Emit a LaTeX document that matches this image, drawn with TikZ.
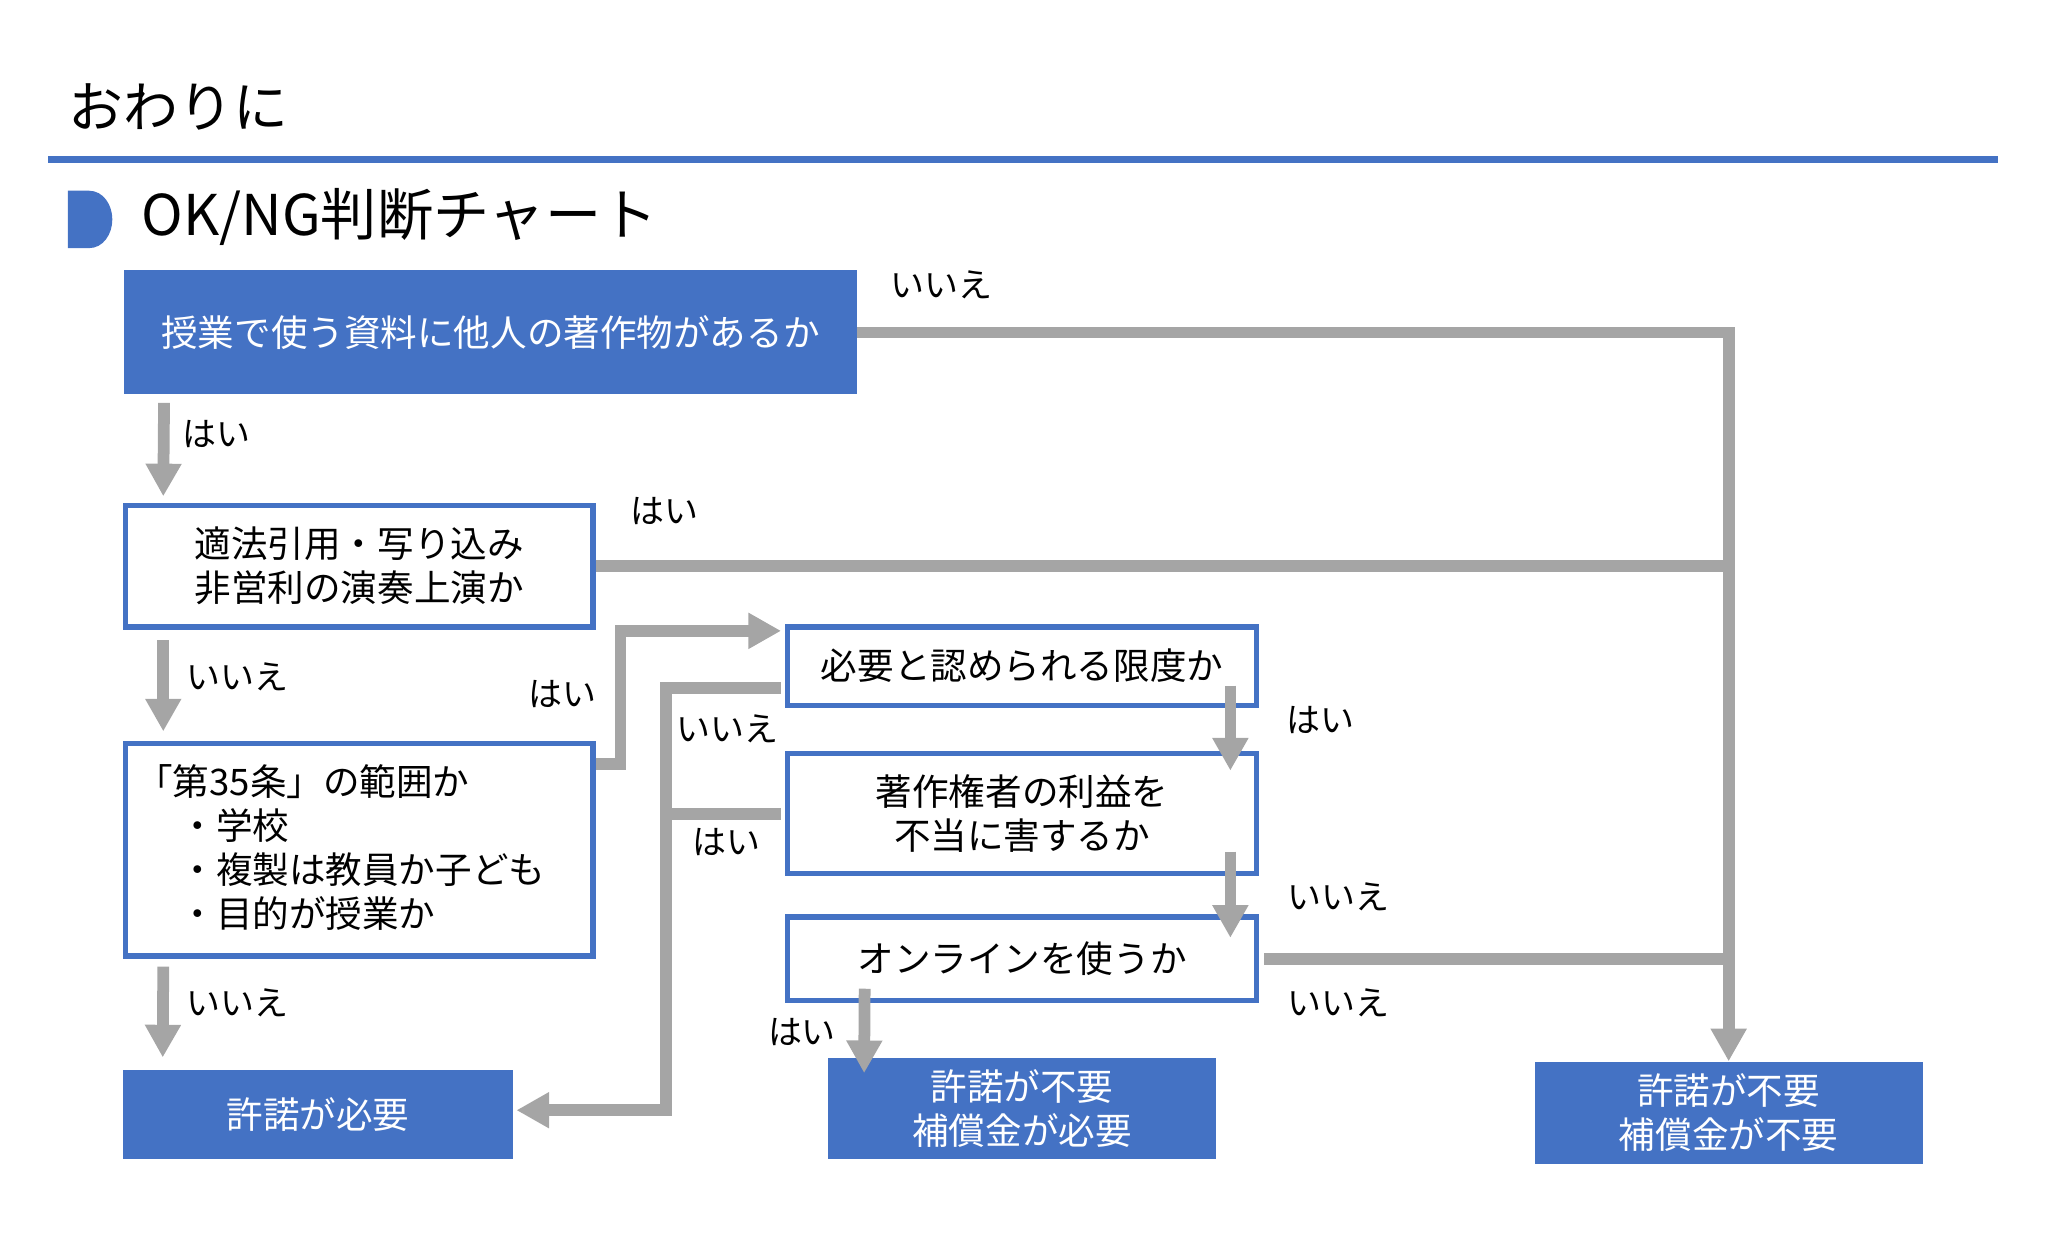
\documentclass[tikz,border=0pt]{standalone}
\usepackage{fontspec}
\newfontfamily\jp{Noto Sans CJK JP}
\usetikzlibrary{arrows.meta}
\definecolor{oblue}{HTML}{4472C4}
\definecolor{ogray}{HTML}{A5A5A5}
\begin{document}
\begin{tikzpicture}[x=0.5pt,y=-0.5pt,
  txt/.style={font=\jp\fontsize{14}{16.8}\selectfont},
  lbl/.style={font=\jp\fontsize{13}{15}\selectfont, inner sep=0pt, text=black},
  qbox/.style={draw=oblue, line width=2pt, fill=white, inner sep=0pt, align=center, txt, text=black},
  abox/.style={fill=oblue, inner sep=0pt, align=center, txt, text=white},
  conn/.style={draw=ogray, line width=4.5pt},
  arr/.style={conn, -{Triangle[width=13pt,length=12.5pt]}},
  ttl/.style={font=\jp\fontsize{21}{25}\selectfont, inner sep=0pt, anchor=west}
]
\useasboundingbox (0,0) rectangle (1568,952);

% header
\node[ttl] (title) at (52,82) {おわりに};
\draw[oblue, line width=2.6pt] (37,122) -- (1530,122);
\fill[oblue] (52,146) -- (68,146) to[out=0,in=90] (86,168) to[out=-90,in=0] (68,190) -- (52,190) -- cycle;
\node[ttl, font=\jp\fontsize{21.5}{25}\selectfont] (sub) at (108,166) {OK/NG判断チャート};

% boxes
\node[abox, minimum width=280.5pt, minimum height=47.5pt] (b1) at (375.5,254.5) {授業で使う資料に他人の著作物があるか};
\node[qbox, minimum width=179pt, minimum height=46.5pt] (b2) at (275,433.5) {適法引用・写り込み\\非営利の演奏上演か};
\node[qbox, minimum width=179pt, minimum height=81.5pt] (b3) at (275,650.5) {};
\node[txt, anchor=west, align=left, inner sep=0pt] (b3t) at (104,649) {「第35条」の範囲か\\\hspace*{16.5pt}・学校\\\hspace*{16.5pt}・複製は教員か子ども\\\hspace*{16.5pt}・目的が授業か};
\node[qbox, minimum width=179.5pt, minimum height=30pt] (b4) at (782.5,510) {必要と認められる限度か};
\node[qbox, minimum width=179.5pt, minimum height=46pt] (b5) at (782.5,623) {著作権者の利益を\\不当に害するか};
\node[qbox, minimum width=179.5pt, minimum height=32pt] (b6) at (782.5,734) {オンラインを使うか};
\node[abox, minimum width=149.5pt, minimum height=34pt] (f1) at (243.5,853) {許諾が必要};
\node[abox, minimum width=148.5pt, minimum height=38.5pt] (f2) at (782.5,848.5) {許諾が不要\\補償金が必要};
\node[abox, minimum width=148.5pt, minimum height=39pt] (f3) at (1323.5,852) {許諾が不要\\補償金が不要};

% connectors
\draw[arr] (b1.east) -| (f3.north);
\draw[conn] (b2.east) -- (b2.east -| f3.north);
\draw[conn] ([shift={(4,0)}]b6.east) -- (b6.east -| f3.north);
\draw[arr] ([shift={(31,6)}]b1.south west) -- ([shift={(31,-5)}]b2.north west);
\draw[arr] ([shift={(31,8)}]b2.south west) -- ([shift={(31,-7)}]b3.north west);
\draw[arr] ([shift={(31,6)}]b3.south west) -- ([shift={(31,-9)}]f1.north west);
\draw[arr] ([shift={(0,18)}]b3.north east) -- ++(19,0) |- ([shift={(-3,5)}]b4.north west);
\draw[arr] ([shift={(-3,-15)}]b4.south west) -- ++(-88,0) |- ([shift={(2,-3)}]f1.east);
\draw[conn] ([shift={(-3,0)}]b5.west) -- ++(-88,0);
\draw[arr] ([shift={(-22,-17)}]b4.south east) -- ([shift={(-22,15)}]b5.north east);
\draw[arr] ([shift={(-22,-19)}]b5.south east) -- ([shift={(-22,18)}]b6.north east);
\draw[arr] ([shift={(61,-11)}]b6.south west) -- ([shift={(28,12)}]f2.north west);

% labels
\node[lbl] (l1) at (721,218) {いいえ};
\node[lbl] (l2) at (166,332) {はい};
\node[lbl] (l3) at (509,391) {はい};
\node[lbl] (l4) at (182,518) {いいえ};
\node[lbl] (l5) at (431,531) {はい};
\node[lbl] (l6) at (557,558) {いいえ};
\node[lbl] (l7) at (556,645) {はい};
\node[lbl] (l8) at (1011,551) {はい};
\node[lbl] (l9) at (1025,687) {いいえ};
\node[lbl] (l10) at (1025,768) {いいえ};
\node[lbl] (l11) at (614,790) {はい};
\node[lbl] (l12) at (182,768) {いいえ};
\end{tikzpicture}
\end{document}
